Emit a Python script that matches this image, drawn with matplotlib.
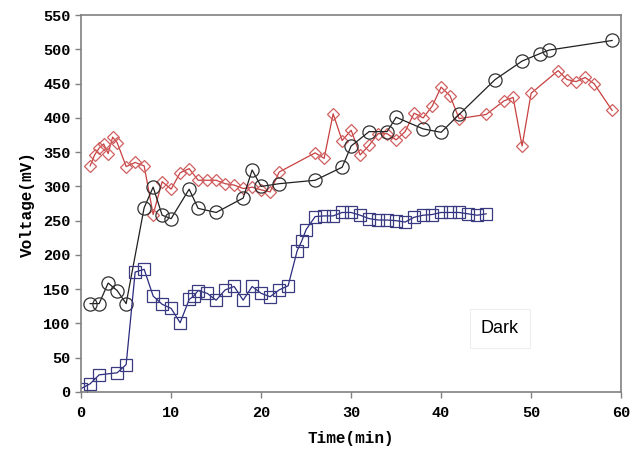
import matplotlib
matplotlib.use('Agg')
import matplotlib.pyplot as plt

# square series (navy)
sq_t = [0, 1, 2, 4, 5, 6, 7, 8, 9, 10, 11, 12, 12.5, 13, 14, 15, 16, 17, 18, 19, 20,
        21, 22, 23, 24, 24.5, 25, 26, 27, 28, 29, 30, 31, 32, 33, 34, 35, 36, 37, 38,
        39, 40, 41, 42, 43, 44, 45]
sq_v = [5, 12, 25, 28, 40, 175, 179, 140, 128, 122, 101, 135, 140, 148, 144, 134, 149,
        154, 134, 154, 144, 139, 149, 155, 206, 220, 237, 256, 257, 257, 262, 262, 258,
        253, 251, 251, 250, 248, 255, 258, 259, 262, 262, 262, 260, 258, 260]

# circle series (black)
ci_t = [1, 2, 3, 4, 5, 7, 8, 9, 10, 12, 13, 15, 18, 19, 20, 22, 26, 29, 30, 32, 34,
        35, 38, 40, 42, 46, 49, 51, 52, 59]
ci_v = [129, 129, 159, 148, 129, 269, 299, 258, 253, 296, 268, 262, 283, 324, 300, 304,
        309, 328, 359, 380, 380, 401, 384, 379, 405, 456, 483, 494, 499, 513]

# diamond series (red)
di_t = [1, 1.5, 2, 2.5, 3, 3.5, 4, 5, 6, 7, 8, 9, 10, 11, 12, 13, 14, 15, 16, 17, 18,
        19, 20, 21, 22, 26, 27, 28, 29, 30, 31, 32, 33, 34, 35, 36, 37, 38, 39, 40, 41,
        42, 45, 47, 48, 49, 50, 53, 54, 55, 56, 57, 59]
di_v = [330, 346, 356, 362, 348, 372, 364, 329, 335, 330, 259, 307, 296, 320, 326, 309,
        309, 309, 304, 302, 297, 299, 295, 292, 321, 349, 341, 406, 367, 382, 346, 360,
        377, 377, 368, 380, 407, 400, 417, 445, 432, 399, 405, 425, 430, 359, 436, 469,
        456, 453, 459, 450, 411]

fig = plt.figure(figsize=(6.39, 4.59), dpi=100)
ax = fig.add_axes([0.127, 0.146, 0.845, 0.821])

ax.plot(di_t, di_v, color='#c84040', linewidth=0.9, marker='D', markersize=6.5,
        markerfacecolor='none', markeredgecolor='#d06060', markeredgewidth=0.9)
ax.plot(ci_t, ci_v, color='#202020', linewidth=0.9, marker='o', markersize=9.5,
        markerfacecolor='none', markeredgecolor='#303030', markeredgewidth=0.9)
ax.plot(sq_t, sq_v, color='#2a2a80', linewidth=0.9, marker='s', markersize=8,
        markerfacecolor='none', markeredgecolor='#3a3a80', markeredgewidth=0.9)

ax.set_xlim(0, 60)
ax.set_ylim(0, 550)
ax.set_xticks(range(0, 61, 10))
ax.set_yticks(range(0, 551, 50))

for s in ax.spines.values():
    s.set_color('#808080')
    s.set_linewidth(1.2)
ax.tick_params(direction='out', length=4, color='#808080', width=1)
ax.tick_params(axis='x', pad=6)

mono = 'Liberation Mono'
for lab in ax.get_xticklabels() + ax.get_yticklabels():
    lab.set_fontfamily(mono)
    lab.set_fontweight('bold')
    lab.set_fontsize(11)

ax.set_xlabel('Time(min)', fontfamily=mono, fontweight='bold', fontsize=11.5, labelpad=8)
ax.set_ylabel('Voltage(mV)', fontfamily=mono, fontweight='bold', fontsize=11.5, labelpad=6)

ax.text(46.5, 93, 'Dark', fontfamily='Liberation Sans', fontsize=13, ha='center', va='center',
        bbox=dict(boxstyle='square,pad=0.6', facecolor='white', edgecolor='#eeeeee', linewidth=0.8))

fig.savefig('out.png', dpi=100)
